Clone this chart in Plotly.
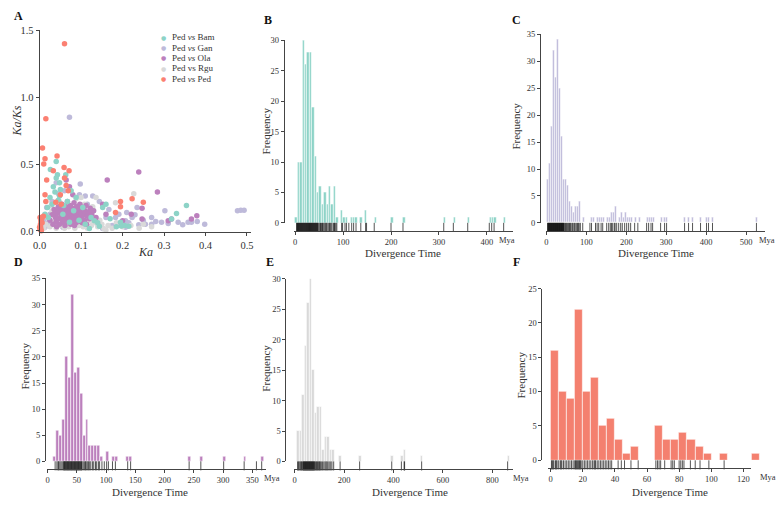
import plotly.graph_objects as go

W, H = 779, 505
FONT = "Liberation Serif"
AX = "#444444"
TXT = "#333333"

# ---------------- Panel A data (Ka vs Ka/Ks) ----------------
series_names = ["Ped <i>vs</i> Bam", "Ped <i>vs</i> Gan", "Ped <i>vs</i> Ola", "Ped vs Rgu", "Ped <i>vs</i> Ped"]
series_colors = ["#8dd3c7", "#bebada", "#bc80bd", "#d9d9d9", "#fb8072"]

bam_ka = [0.026, 0.040, 0.043, 0.040, 0.048, 0.063, 0.033, 0.048, 0.076, 0.025,
          0.088, 0.354, 0.330, 0.318, 0.195, 0.197, 0.215, 0.144, 0.124, 0.132,
          0.152, 0.160, 0.104, 0.013, 0.019, 0.120, 0.072, 0.056, 0.030, 0.037,
          0.050, 0.067, 0.082, 0.095, 0.110, 0.021, 0.045, 0.058, 0.185, 0.205,
          0.140, 0.170]
bam_kaks = [0.46, 0.52, 0.42, 0.395, 0.36, 0.42, 0.33, 0.26, 0.30, 0.25,
            0.25, 0.19, 0.13, 0.088, 0.064, 0.037, 0.034, 0.034, 0.10, 0.076,
            0.174, 0.20, 0.174, 0.125, 0.174, 0.017, 0.064, 0.125, 0.20, 0.29,
            0.31, 0.22, 0.15, 0.08, 0.05, 0.10, 0.23, 0.19, 0.03, 0.04,
            0.06, 0.09]

gan_ka = [0.072, 0.098, 0.040, 0.110, 0.128, 0.302, 0.477, 0.485, 0.493, 0.334,
          0.366, 0.270, 0.294, 0.255, 0.239, 0.207, 0.223, 0.183, 0.160, 0.136,
          0.120, 0.144, 0.088, 0.017, 0.025, 0.009, 0.013, 0.033, 0.056, 0.104,
          0.088, 0.056, 0.398, 0.358, 0.270, 0.210, 0.235, 0.167, 0.191, 0.207,
          0.152, 0.096, 0.030, 0.045, 0.060, 0.115, 0.130, 0.015, 0.005, 0.020,
          0.250, 0.280, 0.310, 0.345, 0.380, 0.215, 0.195, 0.175, 0.230, 0.140]
gan_kaks = [0.85, 0.35, 0.36, 0.26, 0.26, 0.15, 0.15, 0.155, 0.155, 0.064,
            0.064, 0.05, 0.064, 0.05, 0.046, 0.076, 0.10, 0.10, 0.10, 0.076,
            0.125, 0.22, 0.125, 0.174, 0.125, 0.076, 0.027, 0.05, 0.076, 0.076,
            0.04, 0.027, 0.05, 0.064, 0.10, 0.137, 0.174, 0.16, 0.125, 0.027,
            0.017, 0.27, 0.22, 0.28, 0.30, 0.20, 0.15, 0.10, 0.04, 0.06,
            0.08, 0.07, 0.055, 0.045, 0.07, 0.06, 0.05, 0.04, 0.12, 0.05]

ola_ka = [0.239, 0.163, 0.284, 0.064, 0.247, 0.221, 0.379, 0.366, 0.310, 0.318,
          0.247, 0.200, 0.152, 0.112, 0.136, 0.160, 0.072, 0.080,
          0.025, 0.030, 0.032, 0.035, 0.038, 0.040, 0.042, 0.045, 0.046, 0.048,
          0.050, 0.052, 0.054, 0.055, 0.057, 0.058, 0.060, 0.061, 0.063, 0.064,
          0.066, 0.067, 0.068, 0.070, 0.071, 0.072, 0.074, 0.075, 0.076, 0.078,
          0.079, 0.080, 0.082, 0.083, 0.085, 0.086, 0.088, 0.089, 0.090, 0.092,
          0.094, 0.095, 0.097, 0.098, 0.100, 0.102, 0.104, 0.106, 0.108, 0.110,
          0.112, 0.115, 0.118, 0.120, 0.044, 0.051, 0.059, 0.065, 0.069, 0.073,
          0.077, 0.081, 0.087, 0.091, 0.096, 0.103, 0.036, 0.041, 0.053, 0.062,
          0.084, 0.099, 0.107, 0.113, 0.122, 0.126, 0.130, 0.134]
ola_kaks = [0.44, 0.38, 0.29, 0.38, 0.17, 0.125, 0.113, 0.088, 0.076, 0.088,
            0.088, 0.076, 0.20, 0.125, 0.10, 0.125, 0.33, 0.27,
            0.08, 0.12, 0.05, 0.16, 0.10, 0.07, 0.13, 0.18, 0.09, 0.05,
            0.14, 0.11, 0.20, 0.07, 0.16, 0.12, 0.09, 0.04, 0.18, 0.14,
            0.11, 0.22, 0.07, 0.16, 0.12, 0.09, 0.19, 0.05, 0.14, 0.10,
            0.17, 0.13, 0.08, 0.21, 0.15, 0.11, 0.06, 0.18, 0.13, 0.09,
            0.16, 0.12, 0.20, 0.07, 0.14, 0.10, 0.17, 0.12, 0.08, 0.15,
            0.19, 0.11, 0.14, 0.09, 0.15, 0.17, 0.06, 0.10, 0.13, 0.15,
            0.08, 0.16, 0.12, 0.10, 0.15, 0.06, 0.13, 0.03, 0.09, 0.12,
            0.04, 0.18, 0.15, 0.05, 0.17, 0.12, 0.15, 0.09]

rgu_ka = [0.183, 0.227, 0.136, 0.100, 0.160, 0.250, 0.010, 0.015, 0.020, 0.025,
          0.030, 0.035, 0.040, 0.045, 0.050, 0.055, 0.060, 0.065, 0.070, 0.075,
          0.080, 0.085, 0.090, 0.095, 0.100, 0.105, 0.110, 0.115, 0.120, 0.125,
          0.130, 0.140, 0.145, 0.150, 0.155, 0.165, 0.175, 0.185, 0.200, 0.220,
          0.240, 0.270, 0.012, 0.028, 0.048, 0.068, 0.088, 0.108, 0.128]
rgu_kaks = [0.21, 0.277, 0.25, 0.25, 0.007, 0.05, 0.02, 0.05, 0.10, 0.03,
            0.15, 0.07, 0.02, 0.12, 0.04, 0.09, 0.02, 0.06, 0.03, 0.11,
            0.05, 0.02, 0.07, 0.04, 0.10, 0.03, 0.06, 0.02, 0.08, 0.04,
            0.06, 0.03, 0.08, 0.05, 0.015, 0.04, 0.02, 0.06, 0.03, 0.04,
            0.02, 0.03, 0.12, 0.19, 0.22, 0.20, 0.24, 0.20, 0.18]

ped_ka = [0.060, 0.015, 0.007, 0.013, 0.010, 0.042, 0.059, 0.033, 0.060, 0.064,
          0.017, 0.013, 0.015, 0.039, 0.050, 0.069, 0.071, 0.195, 0.223, 0.250,
          0.183, 0.195, 0.001, 0.003, 0.000, 0.002, 0.005, 0.009, 0.001, 0.004,
          0.002, 0.006, 0.003, 0.052]
ped_kaks = [1.40, 0.84, 0.62, 0.54, 0.50, 0.56, 0.475, 0.45, 0.395, 0.34,
            0.38, 0.27, 0.22, 0.215, 0.27, 0.30, 0.45, 0.22, 0.24, 0.215,
            0.137, 0.18, 0.10, 0.076, 0.027, 0.05, 0.088, 0.11, 0.01, 0.0,
            0.035, 0.06, 0.015, 0.20]

a_xticks = [0.0, 0.1, 0.2, 0.3, 0.4, 0.5]
a_yticks = [0.0, 0.5, 1.0, 1.5]

# ---------------- Histogram data (divergence time, Mya) ----------------
b_bin_w = 5
b_bins = [0, 5, 10, 15, 20, 25, 30, 35, 40, 45, 50, 55, 60, 65, 70, 75, 80, 85,
          95, 100, 105, 115, 120, 125, 135, 145, 165, 200, 225, 310, 330, 360,
          405, 410, 415, 435]
b_counts = [1, 10, 10, 30, 26, 28, 28, 19, 11, 5, 6, 3, 5, 3, 6, 3, 6, 1,
            2, 1, 1, 1, 1, 1, 1, 2, 1, 1, 1, 1, 1, 1,
            1, 1, 1, 1]
b_rug = [3, 4, 5, 6, 7, 8, 9, 10, 11, 12, 13, 14, 15, 16, 17, 18, 19, 20, 21, 22,
         23, 24, 25, 26, 27, 28, 29, 30, 31, 32, 33, 34, 35, 36, 37, 38, 39, 40,
         41, 42, 43, 44, 45, 46, 47, 48, 50, 52, 53, 55, 57, 58, 60, 62, 64, 65,
         67, 70, 72, 73, 75, 77, 80, 82, 83, 85, 87, 97, 99, 104, 107, 112, 118,
         122, 127, 137, 147, 149, 165, 200, 225, 310, 330, 360, 405, 410, 415, 435]
b_xticks = [0, 100, 200, 300, 400]

c_bin_w = 5
c_bins = [0, 5, 10, 15, 20, 25, 30, 35, 40, 45, 50, 55, 60, 65, 70, 75, 80,
          90, 110, 115, 125, 130, 135, 140, 150, 155, 160, 165, 170,
          180, 185, 190, 195, 200, 205, 210, 220, 230, 250, 255, 260, 265,
          285, 295, 300, 345, 355, 365, 385, 400, 405, 415, 525]
c_counts = [8, 11, 18, 32, 27, 34, 25, 16, 8, 8, 7, 4, 3, 2, 3, 3, 4,
            1, 1, 1, 1, 1, 1, 1, 1, 1, 2, 2, 3,
            1, 2, 1, 2, 1, 1, 1, 1, 1, 1, 1, 1, 1,
            1, 1, 1, 1, 1, 1, 1, 1, 1, 1, 1]
c_rug = [3, 4, 5, 6, 7, 8, 9, 10, 11, 12, 13, 14, 15, 16, 17, 18, 19, 20, 21, 22,
         23, 24, 25, 26, 27, 28, 29, 30, 31, 32, 33, 34, 35, 36, 37, 38, 39, 40,
         41, 42, 43, 44, 46, 48, 50, 52, 54, 56, 58, 60, 62, 65, 67, 70, 72, 75,
         78, 80, 82, 85, 91, 109, 113, 123, 127, 131, 137, 141, 151, 156, 160,
         163, 166, 170, 172, 176, 181, 186, 190, 196, 201, 206, 211, 221, 229,
         251, 256, 262, 266, 286, 296, 301, 346, 356, 366, 386, 401, 406, 416, 526]
c_xticks = [0, 100, 200, 300, 400, 500]

d_bin_w = 5
d_bins = [10, 15, 20, 25, 30, 35, 40, 45, 50, 55, 60, 65, 70, 75, 80, 85, 90,
          100, 110, 115, 135, 140, 240, 260, 300, 335, 365]
d_counts = [1, 6, 5, 8, 20, 16, 32, 17, 18, 13, 5, 8, 3, 3, 3, 3, 1,
            2, 1, 1, 1, 1, 1, 1, 1, 1, 1]
d_rug = [13, 16, 18, 19, 21, 23, 25, 27, 28, 29, 30, 31, 32, 33, 34, 35, 36, 37,
         38, 39, 40, 41, 42, 43, 44, 45, 46, 47, 48, 49, 50, 51, 52, 53, 54, 55,
         56, 57, 58, 59, 61, 63, 65, 66, 68, 70, 72, 74, 77, 79, 82, 84, 87, 89,
         93, 97, 101, 104, 111, 116, 137, 142, 242, 262, 301, 336, 357, 366]
d_xticks = [0, 50, 100, 150, 200, 250, 300, 350]

e_bin_w = 10
e_bins = [10, 20, 30, 40, 50, 60, 70, 80, 90, 100, 110, 120, 130, 140, 150,
          180, 260, 390, 430, 440, 510, 860]
e_counts = [5, 5, 11, 19, 26, 30, 15, 8, 9, 9, 2, 4, 4, 2, 2,
            1, 1, 1, 1, 2, 1, 1]
e_rug = [12, 15, 18, 22, 25, 28, 31, 34, 36, 38, 40, 42, 44, 46, 48, 50, 52, 54,
         56, 58, 60, 62, 64, 66, 68, 70, 72, 74, 76, 78, 80, 83, 86, 89, 92, 95,
         98, 101, 104, 108, 113, 118, 123, 127, 131, 135, 140, 146, 151, 158,
         184, 263, 393, 432, 443, 445, 514, 862]
e_xticks = [0, 200, 400, 600, 800]

f_bin_w = 5
f_bins = [0, 5, 10, 15, 20, 25, 30, 35, 40, 45, 50, 65, 70, 75, 80, 85, 90, 95,
          105, 125]
f_counts = [16, 10, 9, 22, 10, 12, 5, 6, 3, 1, 2, 5, 3, 3, 4, 3, 2, 1, 1, 1]
f_rug = [0.5, 1, 1.5, 2, 3, 3.5, 4, 5, 6, 6.5, 7, 8, 9, 10, 11, 12, 13, 14, 15,
         15.5, 16, 16.5, 17, 17.5, 18, 18.5, 19, 20, 21, 22, 23, 24, 25, 26, 27,
         27.5, 28, 29, 30, 31, 32, 33, 34, 35, 36, 37, 38, 42, 44, 46, 50, 54.5,
         65.5, 66.5, 67.5, 68.5, 71, 75, 76, 77, 80, 81, 82, 83, 87, 90, 93,
         98.5, 108]
f_xticks = [0, 20, 40, 60, 80, 100, 120]

hist_panels = [
    dict(letter="B", bins=b_bins, counts=b_counts, w=b_bin_w, rug=b_rug, xt=b_xticks, ymax=30,
         color="#8dd3c7", x0=291.5, ppu=0.485, ax=(290, 512), barend=512, ypx=280,
         y0=222.3, ytop=36, rug_px=(223.6, 230.2), mya=(506, 240), let=(264, 15),
         ftitle=(262, 128), dtitle=(401, 252.5)),
    dict(letter="C", bins=c_bins, counts=c_counts, w=c_bin_w, rug=c_rug, xt=c_xticks, ymax=35,
         color="#bebada", x0=545.7, ppu=0.404, ax=(545, 767), barend=767, ypx=539.3,
         y0=222.3, ytop=30, rug_px=(223.6, 230.2), mya=(769, 240), let=(515, 15),
         ftitle=(514, 124), dtitle=(657, 252.5)),
    dict(letter="D", bins=d_bins, counts=d_counts, w=d_bin_w, rug=d_rug, xt=d_xticks, ymax=35,
         color="#bc80bd", x0=41.0, ppu=0.592, ax=(40.5, 262), barend=262, ypx=38.3,
         y0=465.7, ytop=279, rug_px=(467, 473.3), mya=(268, 482.2), let=(12, 262),
         ftitle=(18, 368), dtitle=(145, 496.5)),
    dict(letter="E", bins=e_bins, counts=e_counts, w=e_bin_w, rug=e_rug, xt=e_xticks, ymax=30,
         color="#d9d9d9", x0=291.0, ppu=0.25, ax=(290, 512), barend=512, ypx=281.7,
         y0=465.7, ytop=279.3, rug_px=(467, 473.5), mya=(520, 482.2), let=(266, 262),
         ftitle=(262, 370), dtitle=(408, 496.5)),
    dict(letter="F", bins=f_bins, counts=f_counts, w=f_bin_w, rug=f_rug, xt=f_xticks, ymax=25,
         color="#f4806f", x0=550.0, ppu=1.625, ax=(547, 753), barend=764, ypx=540.7,
         y0=464.3, ytop=289.3, rug_px=(466, 472.3), mya=(770, 481.5), let=(515, 262),
         ftitle=(520, 377), dtitle=(671, 496.5)),
]


def fx(px):
    return px / W


def fy(py):
    return 1 - py / H


def label(px, py, text, size, color=TXT, angle=0, xanchor="center", family=FONT):
    return dict(x=fx(px), y=fy(py), xref="paper", yref="paper", text=text,
                textangle=angle, showarrow=False, xanchor=xanchor, yanchor="middle",
                font=dict(family=family, size=size, color=color))


fig = go.Figure()
layout = dict(width=W, height=H, margin=dict(l=0, r=0, t=0, b=0, pad=0),
              paper_bgcolor="white", plot_bgcolor="white", showlegend=False,
              font=dict(family=FONT, color=TXT))
annotations = []

tickfont_small = dict(family=FONT, size=8.5, color=TXT)

# ---------------- Panel A ----------------
series_x = [bam_ka, gan_ka, ola_ka, rgu_ka, ped_ka]
series_y = [bam_kaks, gan_kaks, ola_kaks, rgu_kaks, ped_kaks]
draw_order = [1, 3, 2, 0, 4]
for i in draw_order:
    n = min(len(series_x[i]), len(series_y[i]))
    fig.add_trace(go.Scatter(x=series_x[i][:n], y=series_y[i][:n], mode="markers",
                             marker=dict(color=series_colors[i], size=5.5, line=dict(width=0)),
                             name=series_names[i], xaxis="x", yaxis="y", cliponaxis=False))

layout["xaxis"] = dict(domain=[fx(33), fx(247)], range=[0, 0.51], anchor="y",
                       showline=True, linecolor=AX, linewidth=1, ticks="outside", ticklen=3,
                       tickcolor=AX, tickvals=a_xticks, tickformat=".1f",
                       tickfont=dict(family=FONT, size=10.5, color=TXT),
                       showgrid=False, zeroline=False)
layout["yaxis"] = dict(domain=[fy(231.5), fy(26)], range=[-0.008, 1.5], anchor="x",
                       showline=True, linecolor=AX, linewidth=1, ticks="outside", ticklen=3,
                       tickcolor=AX, tickvals=a_yticks, tickformat=".1f",
                       tickfont=dict(family=FONT, size=10.5, color=TXT),
                       showgrid=False, zeroline=False)

annotations.append(label(12, 11.5, "<b>A</b>", 12, color="#111"))
annotations.append(label(10, 118, "<i>Ka/Ks</i>", 12, angle=-90))
annotations.append(label(140, 252, "<i>Ka</i>", 12))
for i, (nm, col) in enumerate(zip(series_names, series_colors)):
    ly = 33 + 10.5 * i
    annotations.append(label(158, ly, "●", 6, color=col, family="DejaVu Sans"))
    annotations.append(label(165, ly, nm, 9, xanchor="left"))

# ---------------- Histogram panels ----------------
k = 2
for p in hist_panels:
    xa_bar, ya_bar = f"x{k}", f"y{k}"
    xa_rug, ya_rug = f"x{k+1}", f"y{k+1}"

    def rng(a, b, p=p):
        return [(a - p["x0"]) / p["ppu"], (b - p["x0"]) / p["ppu"]]

    fig.add_trace(go.Bar(x=p["bins"], y=p["counts"], width=p["w"], offset=0,
                         marker=dict(color=p["color"], line=dict(color="white", width=0.6)),
                         xaxis=xa_bar, yaxis=ya_bar, name=p["letter"]))
    fig.add_trace(go.Scatter(x=p["rug"], y=[0.5] * len(p["rug"]), mode="markers",
                             marker=dict(symbol="line-ns", size=6.5,
                                         line=dict(width=0.9, color="rgba(0,0,0,0.75)")),
                             xaxis=xa_rug, yaxis=ya_rug, cliponaxis=False, name=p["letter"] + " rug"))

    layout[f"xaxis{k}"] = dict(domain=[fx(p["ax"][0]), fx(p["barend"])],
                               range=rng(p["ax"][0], p["barend"]), anchor=ya_bar, visible=False)
    layout[f"yaxis{k}"] = dict(domain=[fy(p["y0"]), fy(p["ytop"])], range=[0, p["ymax"]],
                               anchor="free", position=fx(p["ypx"]),
                               showline=True, linecolor=AX, linewidth=1, ticks="outside",
                               ticklen=3, tickcolor=AX, tick0=0, dtick=5,
                               tickfont=tickfont_small, showgrid=False, zeroline=False)
    layout[f"xaxis{k+1}"] = dict(domain=[fx(p["ax"][0]), fx(p["ax"][1])],
                                 range=rng(p["ax"][0], p["ax"][1]), anchor=ya_rug,
                                 showline=True, linecolor=AX, linewidth=1, ticks="outside",
                                 ticklen=3, tickcolor=AX, tickvals=p["xt"],
                                 tickfont=tickfont_small, showgrid=False, zeroline=False)
    layout[f"yaxis{k+1}"] = dict(domain=[fy(p["rug_px"][1]), fy(p["rug_px"][0])], range=[0, 1],
                                 anchor=xa_rug, visible=False)

    annotations.append(label(p["let"][0], p["let"][1], f"<b>{p['letter']}</b>", 12, color="#111"))
    annotations.append(label(p["ftitle"][0], p["ftitle"][1], "Frequency", 11, angle=-90))
    annotations.append(label(p["dtitle"][0], p["dtitle"][1], "Divergence Time", 11))
    annotations.append(label(p["mya"][0], p["mya"][1], "Mya", 8.5))
    k += 2

layout["annotations"] = annotations
layout["bargap"] = 0
fig.update_layout(**layout)
fig.write_html("out.html", config={"responsive": False, "displayModeBar": False},
               post_script="document.body.style.margin='0';document.body.style.overflow='hidden';")
